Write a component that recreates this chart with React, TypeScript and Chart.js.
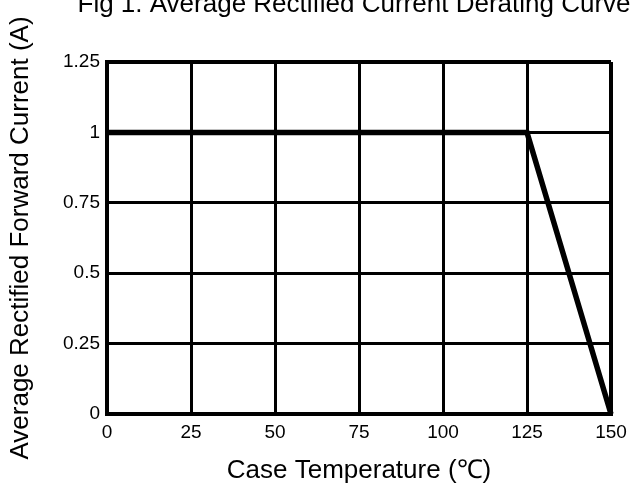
import React, { useEffect, useRef } from "react";
import { Chart, registerables } from "chart.js";

Chart.register(...registerables);

const titleText = "Fig 1. Average Rectified Current Derating Curve";
const xAxisTitle = "Case Temperature (℃)";
const yAxisTitle = "Average Rectified Forward Current (A)";
const caseTemperature = [0, 125, 150];
const forwardCurrent = [1, 1, 0];
const xTickValues = [0, 25, 50, 75, 100, 125, 150];
const xTickLabels = ["0", "25", "50", "75", "100", "125", "150"];
const yTickValues = [0, 0.25, 0.5, 0.75, 1, 1.25];
const yTickLabels = ["0", "0.25", "0.5", "0.75", "1", "1.25"];

const FONT = "'Liberation Sans', Arial, Helvetica, sans-serif";

export default function App() {
  const ref = useRef<HTMLCanvasElement>(null);

  useEffect(() => {
    document.body.style.margin = "0";
    const canvas = ref.current;
    if (!canvas) return;

    const titlePlugin = {
      id: "figTitle",
      afterDraw(chart: any) {
        const { ctx, chartArea } = chart;
        ctx.save();
        ctx.font = `26px ${FONT}`;
        ctx.fillStyle = "#000";
        ctx.textAlign = "center";
        ctx.textBaseline = "alphabetic";
        ctx.fillText(titleText, (chartArea.left + chartArea.right) / 2 - 5, 12);
        ctx.restore();
      },
    };

    const chart = new Chart(canvas, {
      type: "line",
      data: {
        datasets: [
          {
            data: caseTemperature.map((x, i) => ({ x, y: forwardCurrent[i] })),
            borderColor: "#000",
            borderWidth: 5.5,
            pointRadius: 0,
            tension: 0,
            fill: false,
            clip: false as any,
          },
        ],
      },
      options: {
        animation: false,
        responsive: false,
        layout: { padding: { top: 62, right: 23, left: 0, bottom: 0 } },
        plugins: {
          legend: { display: false },
          tooltip: { enabled: false },
          title: { display: false },
        },
        scales: {
          x: {
            type: "linear",
            min: 0,
            max: 150,
            afterBuildTicks: (s: any) => {
              s.ticks = xTickValues.map((v) => ({ value: v }));
            },
            afterFit: (s: any) => {
              s.height = 81;
            },
            grid: {
              color: "#000",
              lineWidth: (c: any) => (c.tick && c.tick.value === 150 ? 4 : 3),
              drawTicks: false,
            },
            border: { display: true, color: "#000", width: 4 },
            ticks: {
              color: "#000",
              font: { family: FONT, size: 19 },
              padding: 7,
              maxRotation: 0,
              autoSkip: false,
              callback: (v: any) => {
                const i = xTickValues.indexOf(Number(v));
                return i >= 0 ? xTickLabels[i] : "";
              },
            },
            title: {
              display: true,
              text: xAxisTitle,
              color: "#000",
              font: { family: FONT, size: 26 },
              padding: { top: 0, bottom: 9 },
            },
          },
          y: {
            type: "linear",
            min: 0,
            max: 1.25,
            afterBuildTicks: (s: any) => {
              s.ticks = yTickValues.map((v) => ({ value: v }));
            },
            afterFit: (s: any) => {
              s.width = 107;
            },
            grid: {
              color: "#000",
              lineWidth: (c: any) => (c.tick && c.tick.value === 1.25 ? 4 : 3),
              drawTicks: false,
            },
            border: { display: true, color: "#000", width: 4 },
            ticks: {
              color: "#000",
              font: { family: FONT, size: 19 },
              padding: 7,
              autoSkip: false,
              callback: (v: any) => {
                const i = yTickValues.indexOf(Number(v));
                return i >= 0 ? yTickLabels[i] : "";
              },
            },
            title: {
              display: true,
              text: yAxisTitle,
              color: "#000",
              font: { family: FONT, size: 26 },
              padding: { top: 5, bottom: 0 },
            },
          },
        },
      },
      plugins: [titlePlugin],
    });

    return () => chart.destroy();
  }, []);

  return (
    <canvas
      ref={ref}
      width={634}
      height={495}
      style={{ display: "block", width: 634, height: 495 }}
    />
  );
}
